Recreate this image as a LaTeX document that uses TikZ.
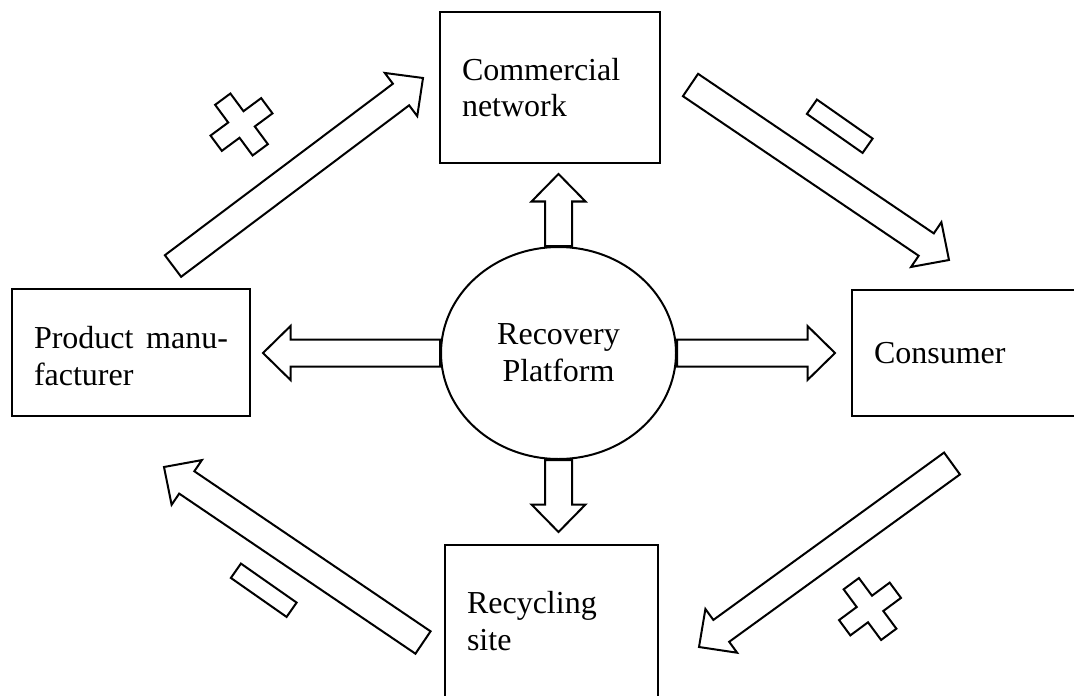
\documentclass[tikz,border=0pt]{standalone}
\usepackage{fontspec}
\setmainfont{Liberation Serif}
\usetikzlibrary{calc,shapes.geometric}
\newcommand{\shw}{6.75pt}
\newcommand{\hdw}{13.5pt}
\newcommand{\hdl}{13.75pt}
\newcommand{\plusarm}{15.75pt}
\newcommand{\pluswd}{4.75pt}
\newcommand{\mlen}{17pt}
\newcommand{\mwd}{4.375pt}
\newcommand{\blockarrow}[2]{%
  \coordinate (hb) at ($(#2)!\hdl!(#1)$);
  \draw[outline] ($(#1)!\shw!90:(#2)$) -- ($(hb)!\shw!-90:(#1)$) -- ($(hb)!\hdw!-90:(#1)$) -- (#2)
    -- ($(hb)!\hdw!90:(#1)$) -- ($(hb)!\shw!90:(#1)$) -- ($(#1)!\shw!-90:(#2)$) -- cycle;}
\begin{document}
\begin{tikzpicture}[x=0.5pt,y=-0.5pt,
  outline/.style={draw,line width=1pt},
  every node/.style={font=\fontsize{16}{18.4}\selectfont},
  box/.style={draw,line width=1pt,align=left,inner xsep=11pt,inner ysep=0pt},
  plussign/.pic={\draw[outline] (-\pluswd,-\plusarm) -- (\pluswd,-\plusarm) -- (\pluswd,-\pluswd) -- (\plusarm,-\pluswd)
    -- (\plusarm,\pluswd) -- (\pluswd,\pluswd) -- (\pluswd,\plusarm) -- (-\pluswd,\plusarm) -- (-\pluswd,\pluswd)
    -- (-\plusarm,\pluswd) -- (-\plusarm,-\pluswd) -- (-\pluswd,-\pluswd) -- cycle;},
  minussign/.pic={\draw[outline] (-\mlen,-\mwd) -- (\mlen,-\mwd) -- (\mlen,\mwd) -- (-\mlen,\mwd) -- cycle;}]
\useasboundingbox (0,0) rectangle (1074,695);
\clip (0,0) rectangle (1074,695);
\node[box,text width=88pt,minimum height=75.5pt] (cn) at (550,87.5) {Commercial\\network};
\node[box,text width=97pt,minimum height=63.5pt,text depth=15pt] (pm) at (131,352.5) {Product\hfill manu-\\facturer};
\node[box,text width=97pt,minimum height=63pt] (cs) at (971,353) {Consumer};
\node[box,text width=84.5pt,minimum height=76pt] (rs) at (551.5,621) {Recycling\\site};
\node[draw,ellipse,line width=1pt,minimum width=117.5pt,minimum height=106pt,inner sep=0pt,align=center] (rp) at (558.5,353) {Recovery\\Platform};
\coordinate (mc-from) at (173,266);
\coordinate (mc-to) at (423,78);
\coordinate (cu-from) at (690.5,85);
\coordinate (cu-to) at (949,260);
\coordinate (ur-from) at (952,463.5);
\coordinate (ur-to) at (699,647);
\coordinate (rm-from) at (423,642.5);
\coordinate (rm-to) at (164,467);
\blockarrow{mc-from}{mc-to}
\blockarrow{cu-from}{cu-to}
\blockarrow{ur-from}{ur-to}
\blockarrow{rm-from}{rm-to}
\blockarrow{rp.north}{$(rp.north |- cn.south)+(0,10)$}
\blockarrow{rp.south}{$(rp.south |- rs.north)+(0,-12)$}
\blockarrow{rp.west}{$(rp.west -| pm.east)+(12,0)$}
\blockarrow{rp.east}{$(rp.east -| cs.west)+(-16,0)$}
\pic[rotate=36.5] at (241.5,124.5) {plussign};
\pic[rotate=36.5] at (870,609) {plussign};
\pic[rotate=-35] at (839.75,126.25) {minussign};
\pic[rotate=-35] at (263.75,590.25) {minussign};
\end{tikzpicture}
\end{document}
